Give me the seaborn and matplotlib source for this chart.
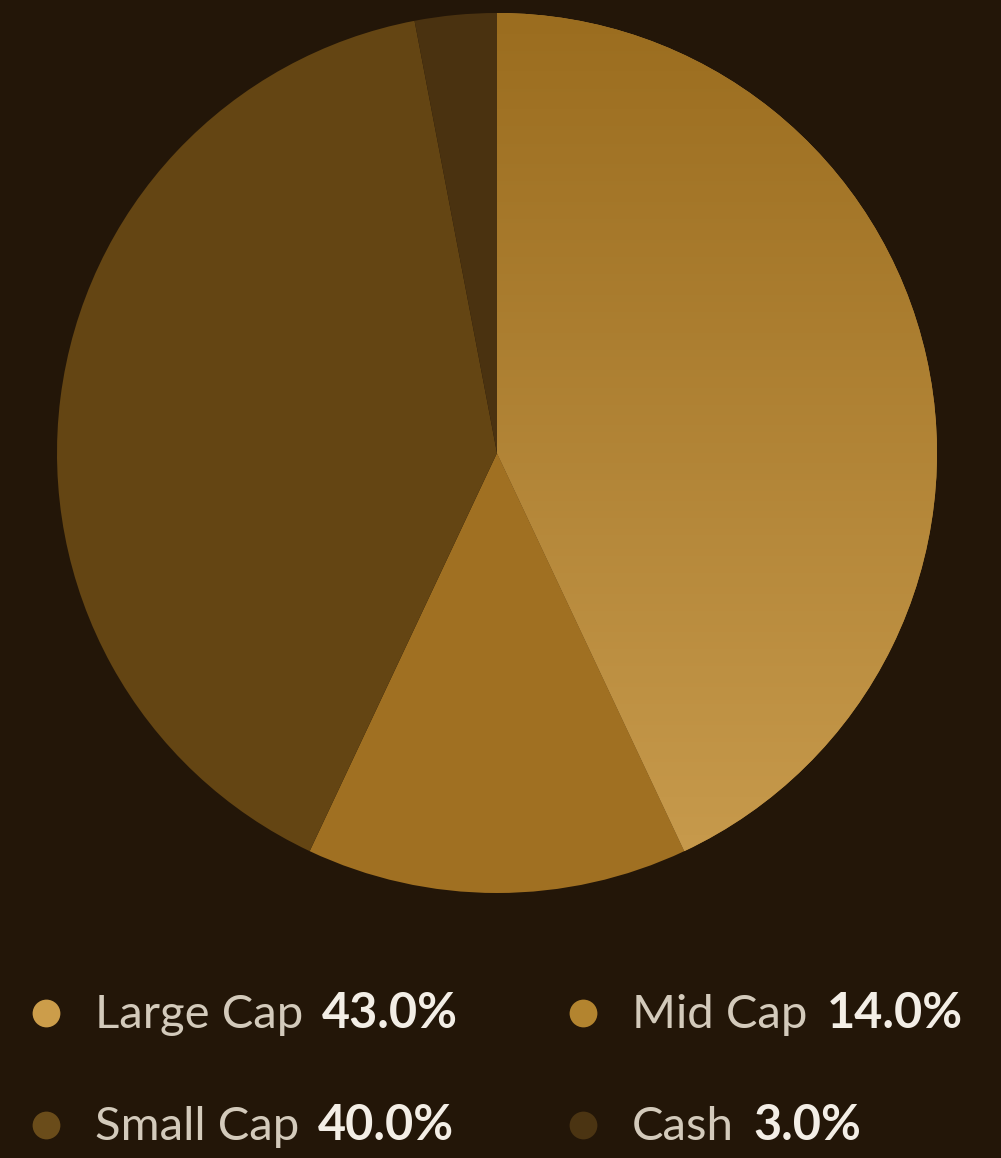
import numpy as np
import matplotlib
matplotlib.use("Agg")
import matplotlib.pyplot as plt
import seaborn as sns
from matplotlib.colors import LinearSegmentedColormap

sns.set_theme(style="white")
plt.rcParams['font.family'] = ['Lato', 'DejaVu Sans']

labels = ["Large Cap", "Mid Cap", "Small Cap", "Cash"]
shares = [43.0, 14.0, 40.0, 3.0]
colors = ["#b3843a", "#a07022", "#644513", "#4a3210"]
dot_colors = ["#cc9d4a", "#b3842f", "#6a4c1a", "#4b3412"]

BG = "#231608"
W, H = 1001, 1158

fig = plt.figure(figsize=(W / 100, H / 100), dpi=100, facecolor=BG)
ax = fig.add_axes([0, 0, 1, 1])
ax.set_facecolor(BG)

cx, cy, r = 497, H - 453, 440
wedges, _ = ax.pie(shares, colors=colors, startangle=90, counterclock=False,
                   center=(cx, cy), radius=r, frame=True,
                   wedgeprops=dict(linewidth=0, antialiased=True))
ax.set_xlim(0, W)
ax.set_ylim(0, H)
ax.set_aspect("equal")
ax.axis("off")

# gradient fill on the large cap slice (darker at top, lighter at bottom)
grad = LinearSegmentedColormap.from_list("g", ["#9b6d1f", "#c99c4e"])
img = ax.imshow(np.linspace(0, 1, 256).reshape(-1, 1), cmap=grad, aspect="auto",
                extent=(cx, cx + r, cy - r, cy + r), zorder=wedges[0].get_zorder() + 0.1)
img.set_clip_path(wedges[0])
ax.set_xlim(0, W)
ax.set_ylim(0, H)

# legend
fig.canvas.draw()
renderer = fig.canvas.get_renderer()
pos = [(46, 1028), (583, 1028), (46, 1140), (583, 1140)]
for (px, py), lab, val, dc in zip(pos, labels, shares, dot_colors):
    y = H - py
    ax.scatter([px], [y + 15], s=400, color=dc, linewidths=0, zorder=5)
    t = ax.text(px + 49, y, lab, fontsize=34, fontweight="normal",
                color="#d3cabb", va="baseline", ha="left")
    bb = t.get_window_extent(renderer)
    x2 = ax.transData.inverted().transform((bb.x1, bb.y0))[0]
    ax.text(x2 + 19, y, f"{val:.1f}%", fontsize=35, fontweight="bold",
            color="#f3eee6", va="baseline", ha="left")

fig.savefig("out.png", dpi=100, facecolor=BG)
